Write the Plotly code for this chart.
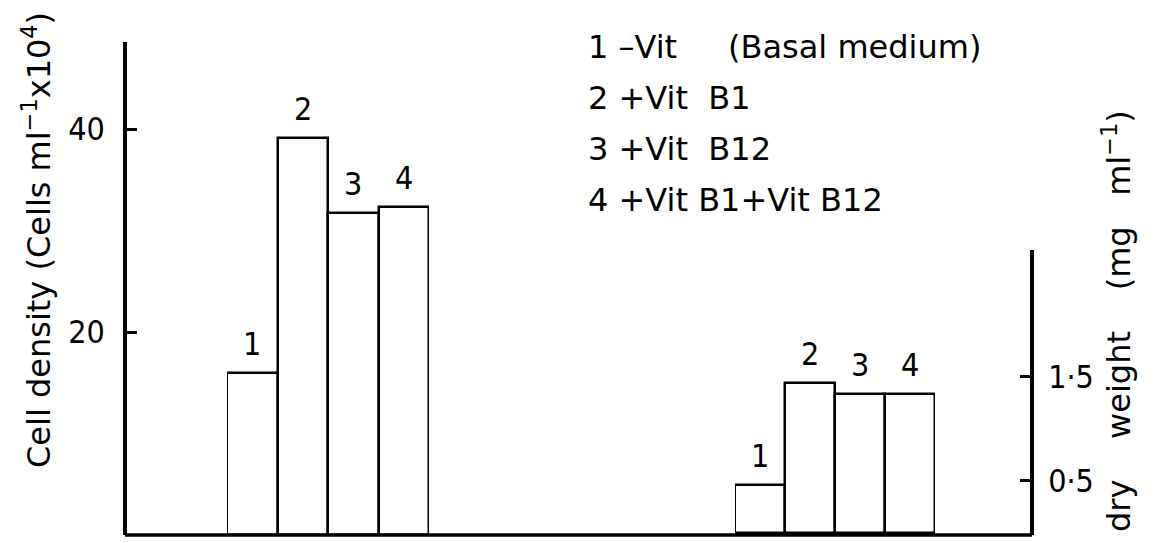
import plotly.graph_objects as go

# ---- data ----
treatments = ["1", "2", "3", "4"]
cell_density = [16.0, 39.1, 31.7, 32.3]        # cells ml^-1 x10^4
dry_weight = [0.46, 1.44, 1.34, 1.34]          # mg ml^-1
left_ticks = [20, 40]
left_ticktext = ["20", "40"]
right_ticks = [0.5, 1.5]
right_ticktext = ["0·5", "1·5"]
legend_lines = [
    "1 –Vit     (Basal medium)",
    "2 +Vit  B1",
    "3 +Vit  B12",
    "4 +Vit B1+Vit B12",
]

FONT = "DejaVu Sans Condensed, Roboto, DejaVu Sans"
WIDE = "DejaVu Sans"
fsize = 32
OFF = 8  # browser body margin

fig = go.Figure()
fig.add_trace(go.Bar(x=treatments, y=cell_density, xaxis="x", yaxis="y",
                     marker=dict(color="white", line=dict(color="black", width=2.5)),
                     showlegend=False, hoverinfo="skip"))
fig.add_trace(go.Bar(x=treatments, y=dry_weight, xaxis="x2", yaxis="y2",
                     marker=dict(color="white", line=dict(color="black", width=2.5)),
                     showlegend=False, hoverinfo="skip"))

annotations = []
for i, (t, v) in enumerate(zip(treatments, cell_density)):
    annotations.append(dict(x=i, y=v, xref="x", yref="y", text=t, showarrow=False,
                            yanchor="bottom", yshift=8,
                            font=dict(family=FONT, size=fsize, color="black")))
for i, (t, v) in enumerate(zip(treatments, dry_weight)):
    annotations.append(dict(x=i, y=v, xref="x2", yref="y2", text=t, showarrow=False,
                            yanchor="bottom", yshift=8,
                            font=dict(family=FONT, size=fsize, color="black")))

# legend-like text block
for i, line in enumerate(legend_lines):
    annotations.append(dict(x=(586 - 125) / 907, y=1 - (i * 51 + 5) / 493, xref="paper", yref="paper",
                            text=line, showarrow=False, xanchor="left", yanchor="middle",
                            font=dict(family=WIDE, size=32, color="black")))

# axis titles
annotations.append(dict(x=-88 / 907, y=(535 - 240) / 493, xref="paper", yref="paper",
                        text="Cell density (Cells ml<sup>−1</sup>x10<sup>4</sup>)",
                        textangle=-90, showarrow=False, xanchor="center", yanchor="middle",
                        font=dict(family=WIDE, size=32, color="black")))
annotations.append(dict(x=(1117 - 125) / 907, y=(535 - 321) / 493, xref="paper", yref="paper",
                        text="dry    weight    (mg   ml<sup>−1</sup>)",
                        textangle=-90, showarrow=False, xanchor="center", yanchor="middle",
                        font=dict(family=WIDE, size=32, color="black")))

fig.update_layout(
    width=1162, height=543,
    margin=dict(l=125 - OFF, r=1162 - 1032 + OFF, t=42 - OFF, b=543 - 535 + OFF),
    paper_bgcolor="white", plot_bgcolor="white",
    bargap=0,
    font=dict(family=FONT, size=fsize, color="black"),
    xaxis=dict(domain=[(227 - 125) / 907, (429 - 125) / 907], anchor="y",
               type="category", visible=False),
    xaxis2=dict(domain=[(735 - 125) / 907, (935 - 125) / 907], anchor="y2",
                type="category", visible=False),
    yaxis=dict(domain=[0, 1], range=[0, 48.6], anchor="free", position=0,
               showline=True, linewidth=3.5, linecolor="black", mirror=False,
               ticks="inside", ticklen=10, tickwidth=2.5, tickcolor="black",
               tickvals=left_ticks, ticktext=left_ticktext,
               showgrid=False, zeroline=False, ticklabelstandoff=12),
    yaxis2=dict(domain=[0, (535 - 250) / 493], range=[-0.02, 2.72], anchor="free",
                position=1, side="right",
                showline=True, linewidth=3.5, linecolor="black",
                ticks="inside", ticklen=10, tickwidth=2.5, tickcolor="black",
                tickvals=right_ticks, ticktext=right_ticktext,
                showgrid=False, zeroline=False, ticklabelstandoff=8),
    shapes=[dict(type="line", xref="paper", yref="paper", x0=0, x1=1, y0=0, y1=0,
                 line=dict(color="black", width=3.5))],
    annotations=annotations,
)

fig.write_html("out.html")
